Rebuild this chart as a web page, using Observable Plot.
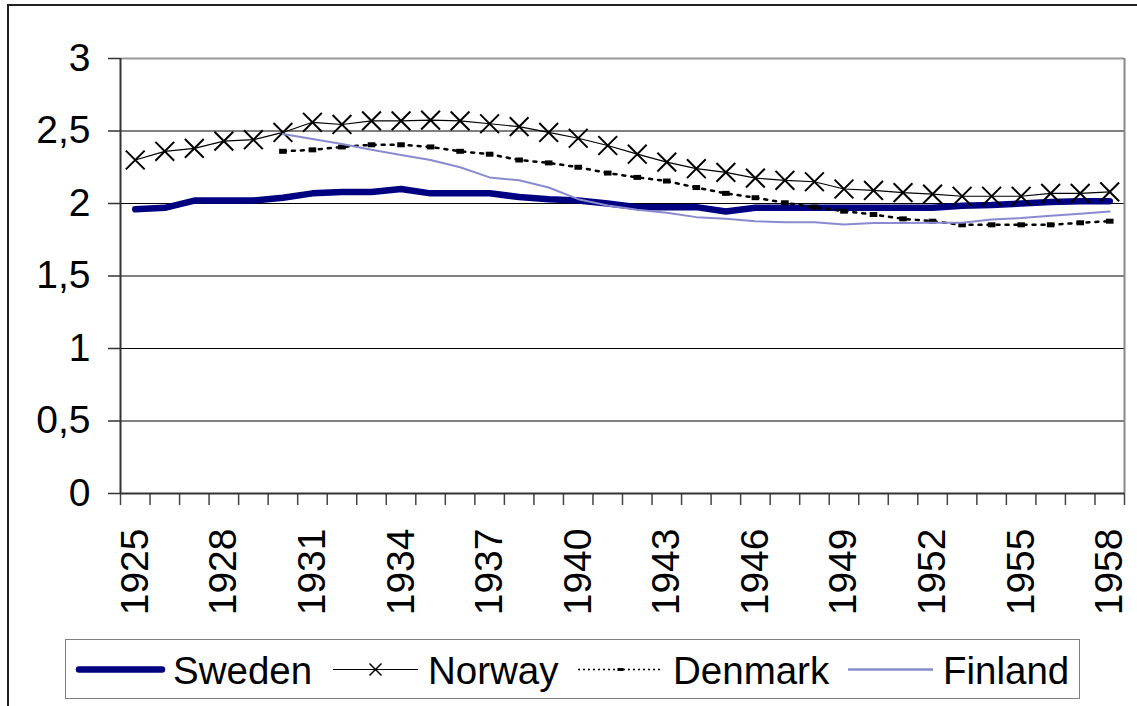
<!DOCTYPE html>
<html><head><meta charset="utf-8">
<script src="https://cdn.jsdelivr.net/npm/d3@7"></script>
<script src="https://cdn.jsdelivr.net/npm/@observablehq/plot@0.6"></script>
<style>
body{margin:0;background:#fff;font-family:"Liberation Sans",Arial,sans-serif;overflow:hidden;}
#frame{position:absolute;left:7px;top:4px;width:1200px;height:800px;border-left:2px solid #222;border-top:2px solid #222;}
#chart{position:absolute;left:0;top:0;}
#legend{position:absolute;left:65px;top:639px;width:1013px;height:58px;border:1.5px solid #808080;background:#fff;}
</style></head><body>
<div id="frame"></div><div id="chart"></div><div id="legend"></div>
<script>
const years = [1925,1926,1927,1928,1929,1930,1931,1932,1933,1934,1935,1936,1937,1938,1939,1940,1941,1942,1943,1944,1945,1946,1947,1948,1949,1950,1951,1952,1953,1954,1955,1956,1957,1958];
const labelYears = [1925,1928,1931,1934,1937,1940,1943,1946,1949,1952,1955,1958];
const yTicks = [0,0.5,1,1.5,2,2.5,3];
const seriesNames = ["Sweden","Norway","Denmark","Finland"];
const sweden = [1.96,1.97,2.02,2.02,2.02,2.04,2.07,2.08,2.08,2.10,2.07,2.07,2.07,2.045,2.03,2.02,2.00,1.975,1.975,1.975,1.945,1.97,1.97,1.97,1.97,1.97,1.97,1.97,1.985,1.99,2.00,2.01,2.015,2.015];
const norway = [2.30,2.36,2.38,2.43,2.44,2.49,2.56,2.545,2.57,2.57,2.575,2.57,2.55,2.53,2.49,2.45,2.40,2.34,2.285,2.24,2.215,2.175,2.16,2.15,2.10,2.09,2.075,2.065,2.05,2.05,2.05,2.07,2.07,2.08];
const denmark = [null,null,null,null,null,2.36,2.37,2.39,2.405,2.405,2.39,2.36,2.34,2.30,2.28,2.25,2.21,2.18,2.155,2.11,2.07,2.04,2.005,1.975,1.947,1.924,1.894,1.878,1.853,1.853,1.853,1.853,1.867,1.878];
const finland = [null,null,null,null,null,2.48,2.445,2.41,2.37,2.335,2.30,2.25,2.18,2.16,2.11,2.03,1.986,1.957,1.936,1.906,1.894,1.878,1.87,1.87,1.855,1.865,1.865,1.867,1.867,1.89,1.90,1.915,1.93,1.945];

const rowsOf = arr => years.map((y,i)=>({year:y, value:arr[i]})).filter(d=>d.value!=null);
const boundaries = years.map(y=>y-0.5).concat([years[years.length-1]+0.5]);
const x0 = boundaries[0], x1 = boundaries[boundaries.length-1];
const comma = d => String(d).replace(".", ",");

const rectSymbol = {draw(ctx, size){ const w=3.8, h=2.5; ctx.moveTo(-w,-h); ctx.lineTo(w,-h); ctx.lineTo(w,h); ctx.lineTo(-w,h); ctx.closePath(); }};

const plot = Plot.plot({
  width:1137, height:630,
  marginLeft:120, marginRight:13, marginTop:58, marginBottom:137,
  style:{fontFamily:"Liberation Sans, Arial, sans-serif", fontSize:"39px", color:"#000", background:"transparent", overflow:"visible"},
  x:{type:"linear", domain:[x0,x1]},
  y:{domain:[0,3]},
  marks:[
    Plot.ruleY(yTicks.filter(t=>t>0 && t<3), {stroke:"#000", strokeWidth:1}),
    Plot.ruleY([3], {stroke:"#999", strokeWidth:2}),
    Plot.ruleX([x1], {stroke:"#888", strokeWidth:2}),
    Plot.axisY({ticks:yTicks, tickSize:12, tickPadding:18, tickFormat:comma, stroke:"#333", strokeWidth:1.5, label:null, fontSize:39}),
    Plot.axisX({ticks:boundaries, tickSize:12, tickFormat:()=>"", stroke:"#444", strokeWidth:1.5, label:null}),
    Plot.axisX({ticks:labelYears, tickSize:0, tickPadding:35, tickRotate:-90, tickFormat:d=>String(d), label:null, fontSize:39}),
    Plot.ruleX([x0], {stroke:"#333", strokeWidth:2}),
    Plot.ruleY([0], {stroke:"#333", strokeWidth:2}),
    Plot.line(rowsOf(sweden), {x:"year", y:"value", stroke:"#000080", strokeWidth:6.5, strokeLinecap:"round", strokeLinejoin:"round"}),
    Plot.line(rowsOf(norway), {x:"year", y:"value", stroke:"#000", strokeWidth:1.2}),
    Plot.dot(rowsOf(norway), {x:"year", y:"value", symbol:"times", r:8.6, stroke:"#000", strokeWidth:2}),
    Plot.line(rowsOf(denmark), {x:"year", y:"value", stroke:"#000", strokeWidth:2.5, strokeDasharray:"3,6"}),
    Plot.dot(rowsOf(denmark), {x:"year", y:"value", symbol:rectSymbol, fill:"#000", r:3}),
    Plot.line(rowsOf(finland), {x:"year", y:"value", stroke:"#8a8ad0", strokeWidth:2})
  ]
});
document.getElementById("chart").appendChild(plot);

// legend
const ns = "http://www.w3.org/2000/svg";
const lg = document.createElementNS(ns, "svg");
lg.setAttribute("width", 1013); lg.setAttribute("height", 58);
lg.style.fontFamily = "Liberation Sans, Arial, sans-serif";
const mk = (tag, attrs) => { const e = document.createElementNS(ns, tag); for (const k in attrs) e.setAttribute(k, attrs[k]); lg.appendChild(e); return e; };
const ly = 29.5;
mk("line", {x1:13, x2:96, y1:ly, y2:ly, stroke:"#000080", "stroke-width":6.5, "stroke-linecap":"round"});
mk("line", {x1:267, x2:352, y1:ly, y2:ly, stroke:"#000", "stroke-width":1.2});
mk("path", {d:`M${309.5-6},${ly-6}L${309.5+6},${ly+6}M${309.5-6},${ly+6}L${309.5+6},${ly-6}`, stroke:"#000", "stroke-width":1.5});
mk("line", {x1:512, x2:597, y1:ly, y2:ly, stroke:"#000", "stroke-width":1.5, "stroke-dasharray":"2,3"});
mk("rect", {x:551.5, y:ly-1.5, width:6, height:3, fill:"#000"});
mk("line", {x1:782, x2:867, y1:ly, y2:ly, stroke:"#8a8ad0", "stroke-width":2.5});
const texts = [[107, seriesNames[0]],[362, seriesNames[1]],[607, seriesNames[2]],[877, seriesNames[3]]];
texts.forEach(([x,t]) => { const e = mk("text", {x, y:44, "font-size":38.5, fill:"#000"}); e.textContent = t; });
document.getElementById("legend").appendChild(lg);
</script>
</body></html>
